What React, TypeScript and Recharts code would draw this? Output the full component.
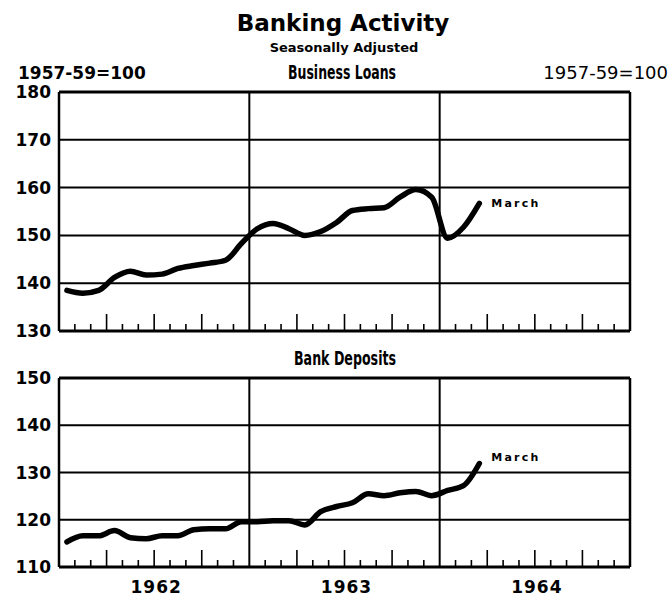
import React from 'react';
import { LineChart, Line, XAxis, YAxis, CartesianGrid, ReferenceLine } from 'recharts';

// Monthly values, Jan 1962 .. Mar 1964 (1957-59=100, seasonally adjusted)
const businessLoans = [
    138.5, 137.9, 138.5, 141.2, 142.5, 141.7, 141.9, 143.1, 143.7, 144.2, 144.8, 148.3,
    151.4, 152.5, 151.4, 150.0, 150.8, 152.7, 155.2, 155.6, 155.8, 158.0, 159.6, 158.0,
    149.4, 151.7, 156.7,
];
const bankDeposits = [
    115.3, 116.6, 116.6, 117.7, 116.2, 116.0, 116.6, 116.6, 117.9, 118.1, 118.1, 119.6,
    119.6, 119.8, 119.8, 118.9, 121.7, 122.8, 123.6, 125.5, 125.1, 125.7, 126.0, 125.1,
    126.2, 127.2, 131.9,
];
const loanTicks = [130, 140, 150, 160, 170, 180];
const depositTicks = [110, 120, 130, 140, 150];
const yearLabels = ['1962', '1963', '1964'];
const lastMonthLabel = 'March';

const MONTHS = 36;
const monthTicks = Array.from({ length: MONTHS - 1 }, (_, i) => i + 1);
const yearLines = [12, 24];

const loanData = businessLoans.map((v, i) => ({ x: i + 0.5, value: v }));
const depositData = bankDeposits.map((v, i) => ({ x: i + 0.5, value: v }));

const FONT = '"DejaVu Sans", sans-serif';

const MonthTick = (props: any) => {
    const { x, y, payload, showYears } = props;
    const m = payload.value;
    const len = m % 3 === 0 ? 17 : 7;
    const yearIdx = (m - 6) / 12;
    return (
        <g>
            {m % 12 !== 0 && <line x1={x} y1={y} x2={x} y2={y - len} stroke="#000" strokeWidth={1.6} />}
            {showYears && m % 12 === 6 && (
                <text x={x + 2} y={y + 26} textAnchor="middle" fontFamily={FONT} fontWeight="bold" fontSize={17} letterSpacing={1} fill="#000">
                    {yearLabels[yearIdx]}
                </text>
            )}
        </g>
    );
};

const endLabel = (count: number, dy: number) => (p: any) => {
    if (p.index !== count - 1) return <g />;
    return (
        <text x={p.x + 12} y={p.y + dy} fontFamily={FONT} fontWeight="bold" fontSize={11} letterSpacing={2.2} fill="#000">
            {lastMonthLabel}
        </text>
    );
};

interface PanelProps {
    data: { x: number; value: number }[];
    ticks: number[];
    top: number;
    height: number;
    marginTop: number;
    axisHeight: number;
    showYears: boolean;
    labelDy: number;
}

const Panel: React.FC<PanelProps> = ({ data, ticks, top, height, marginTop, axisHeight, showYears, labelDy }) => {
    const lo = ticks[0];
    const hi = ticks[ticks.length - 1];
    return (
        <div style={{ position: 'absolute', left: 0, top, width: 672, height }}>
            <LineChart width={672} height={height} data={data} margin={{ top: marginTop, right: 0, bottom: 0, left: 0 }}>
                <CartesianGrid vertical={false} stroke="#000" strokeWidth={2} yAxisId="l" />
                <XAxis
                    type="number"
                    dataKey="x"
                    domain={[0, MONTHS]}
                    ticks={monthTicks}
                    interval={0}
                    height={axisHeight}
                    tickSize={0}
                    tickMargin={0}
                    tickLine={false}
                    axisLine={false}
                    tick={<MonthTick showYears={showYears} />}
                />
                <YAxis
                    yAxisId="l"
                    domain={[lo, hi]}
                    ticks={ticks}
                    width={59}
                    axisLine={false}
                    tickLine={false}
                    tick={{ fontFamily: FONT, fontWeight: 'bold', fontSize: 17, fill: '#000' }}
                />
                <YAxis
                    yAxisId="r"
                    orientation="right"
                    domain={[lo, hi]}
                    ticks={ticks}
                    width={42}
                    axisLine={false}
                    tickLine={false}
                    tick={{ fontFamily: FONT, fontSize: 19, fill: '#000' }}
                />
                {yearLines.map((m) => (
                    <ReferenceLine key={m} x={m} yAxisId="l" stroke="#000" strokeWidth={2} />
                ))}
                <ReferenceLine x={0} yAxisId="l" stroke="#000" strokeWidth={2.5} />
                <ReferenceLine x={MONTHS} yAxisId="l" stroke="#000" strokeWidth={2.5} />
                <ReferenceLine y={lo} yAxisId="l" stroke="#000" strokeWidth={3} />
                <ReferenceLine y={hi} yAxisId="l" stroke="#000" strokeWidth={3} />
                <Line
                    yAxisId="l"
                    type="monotone"
                    dataKey="value"
                    stroke="#000"
                    strokeWidth={5.5}
                    strokeLinejoin="round"
                    strokeLinecap="round"
                    dot={false}
                    activeDot={false}
                    isAnimationActive={false}
                    label={endLabel(data.length, labelDy)}
                />
            </LineChart>
        </div>
    );
};

export default function App() {
    return (
        <div style={{ position: 'absolute', left: 0, top: 0, width: 672, height: 596, background: '#fff', overflow: 'hidden' }}>
            <svg width={672} height={596} style={{ position: 'absolute', left: 0, top: 0 }}>
                <text x={343} y={31} textAnchor="middle" fontFamily={FONT} fontWeight="bold" fontSize={23} fill="#000">
                    Banking Activity
                </text>
                <text x={344} y={52} textAnchor="middle" fontFamily={FONT} fontWeight="bold" fontSize={13} fill="#000">
                    Seasonally Adjusted
                </text>
                <text x={342} y={79} textAnchor="middle" fontFamily={FONT} fontWeight="bold" fontSize={19} textLength={108} lengthAdjust="spacingAndGlyphs" fill="#000">
                    Business Loans
                </text>
                <text x={18} y={79} fontFamily={FONT} fontWeight="bold" fontSize={17} fill="#000">
                    1957-59=100
                </text>
                <text x={668} y={79} textAnchor="end" fontFamily={FONT} fontSize={18} fill="#000">
                    1957-59=100
                </text>
                <text x={345} y={365} textAnchor="middle" fontFamily={FONT} fontWeight="bold" fontSize={19} textLength={102} lengthAdjust="spacingAndGlyphs" fill="#000">
                    Bank Deposits
                </text>
            </svg>
            <Panel data={loanData} ticks={loanTicks} top={0} height={345} marginTop={92} axisHeight={14} showYears={false} labelDy={4} />
            <Panel data={depositData} ticks={depositTicks} top={340} height={256} marginTop={38} axisHeight={29} showYears={true} labelDy={-3} />
        </div>
    );
}
